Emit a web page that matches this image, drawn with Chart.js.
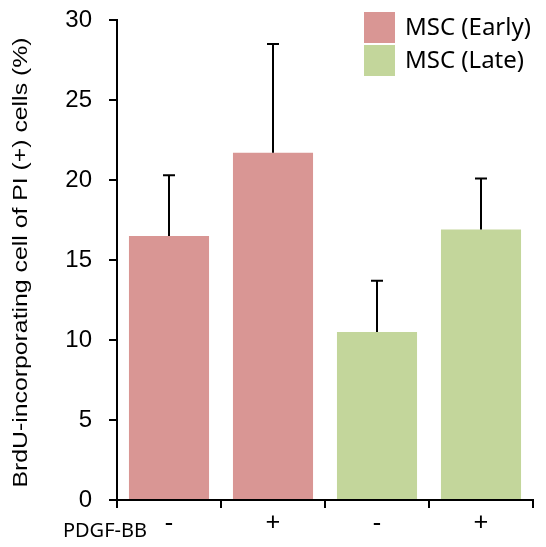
<!DOCTYPE html>
<html>
<head>
<meta charset="utf-8">
<script src="https://cdn.jsdelivr.net/npm/chart.js@4/dist/chart.umd.min.js"></script>
<style>
  html, body { margin: 0; padding: 0; background: #fff; }
  #wrap { width: 546px; height: 547px; position: relative; }
</style>
</head>
<body>
<div id="wrap"><canvas id="c" width="546" height="547"></canvas></div>
<script>
const categories = ['-', '+', '-', '+'];
const earlyValues = [16.5, 21.7, null, null];
const lateValues = [null, null, 10.5, 16.9];
const errorTops = [20.3, 28.5, 13.7, 20.1];
const yTicks = [0, 5, 10, 15, 20, 25, 30];
const seriesNames = ['MSC (Early)', 'MSC (Late)'];
const xAxisName = 'PDGF-BB';
const yAxisName = 'BrdU-incorporating cell of PI (+) cells (%)';

const PINK = '#D99694';
const GREEN = '#C3D69B';

const errorBarPlugin = {
  id: 'errorBars',
  afterDatasetsDraw(chart) {
    const ctx = chart.ctx;
    const x = chart.scales.x, y = chart.scales.y;
    ctx.save();
    ctx.strokeStyle = '#000';
    ctx.lineWidth = 2;
    errorTops.forEach((top, i) => {
      const v = earlyValues[i] != null ? earlyValues[i] : lateValues[i];
      const px = Math.round(x.getPixelForValue(i));
      const y0 = y.getPixelForValue(v);
      const y1 = y.getPixelForValue(top);
      ctx.beginPath();
      ctx.moveTo(px, y0);
      ctx.lineTo(px, y1);
      ctx.moveTo(px - 6, y1);
      ctx.lineTo(px + 6, y1);
      ctx.stroke();
    });
    ctx.restore();
  }
};

const extrasPlugin = {
  id: 'extras',
  afterDraw(chart) {
    const ctx = chart.ctx;
    ctx.save();
    // y axis title (slightly wide lettering as in the reference)
    ctx.fillStyle = '#000';
    ctx.font = '20px "Liberation Sans"';
    ctx.textAlign = 'center';
    ctx.textBaseline = 'alphabetic';
    ctx.save();
    ctx.translate(27, 262.5);
    ctx.rotate(-Math.PI / 2);
    ctx.scale(1.24, 1);
    ctx.fillText(yAxisName, 0, 0);
    ctx.restore();
    // x axis name
    ctx.font = '20px "Noto Sans"';
    ctx.textAlign = 'right';
    ctx.textBaseline = 'middle';
    ctx.fillText(xAxisName, 147, 531);
    // legend
    const colors = [PINK, GREEN];
    ctx.textAlign = 'left';
    ctx.font = '24px "Noto Sans"';
    seriesNames.forEach((name, i) => {
      const top = 12 + i * 33;
      ctx.fillStyle = colors[i];
      ctx.fillRect(364, top, 31, 31);
      ctx.fillStyle = '#000';
      ctx.fillText(name, 405, top + 16);
    });
    ctx.restore();
  }
};

new Chart(document.getElementById('c'), {
  type: 'bar',
  data: {
    labels: categories,
    datasets: [
      { label: seriesNames[0], data: earlyValues, backgroundColor: PINK, borderWidth: 0, barPercentage: 0.77, categoryPercentage: 1.0 },
      { label: seriesNames[1], data: lateValues, backgroundColor: GREEN, borderWidth: 0, barPercentage: 0.77, categoryPercentage: 1.0 }
    ]
  },
  options: {
    responsive: false,
    animation: false,
    layout: { padding: { left: 0, right: 13, top: 0, bottom: 0 } },
    plugins: {
      legend: { display: false },
      tooltip: { enabled: false }
    },
    scales: {
      x: {
        stacked: true,
        offset: true,
        grid: { display: true, drawOnChartArea: false, offset: true, tickLength: 8, color: '#000', lineWidth: 2 },
        border: { display: true, color: '#000', width: 2 },
        ticks: { color: '#000', font: { family: 'Noto Sans', size: 26 }, padding: 0 },
        afterFit(scale) { scale.height = 47; }
      },
      y: {
        min: 0, max: 30,
        afterBuildTicks(scale) { scale.ticks = yTicks.map(v => ({ value: v })); },
        grid: { display: true, drawOnChartArea: false, tickLength: 8, color: '#000', lineWidth: 2 },
        border: { display: true, color: '#000', width: 2 },
        ticks: { color: '#000', font: { family: 'Liberation Sans', size: 24 }, padding: 17 },
        afterFit(scale) { scale.width = 117; scale.paddingTop = 20; scale.paddingBottom = 12; }
      }
    }
  },
  plugins: [errorBarPlugin, extrasPlugin]
});
</script>
</body>
</html>
